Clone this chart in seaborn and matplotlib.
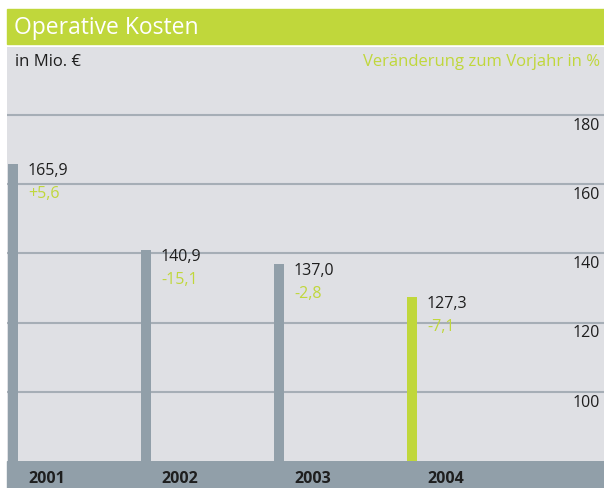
import matplotlib
matplotlib.use("Agg")
import matplotlib.pyplot as plt
import matplotlib.transforms as mtrans
from matplotlib.patches import Rectangle
import seaborn as sns

years = ["2001", "2002", "2003", "2004"]
costs = [165.9, 140.9, 137.0, 127.3]
cost_labels = ["165,9", "140,9", "137,0", "127,3"]
change_labels = ["+5,6", "-15,1", "-2,8", "-7,1"]
yticks = [100, 120, 140, 160, 180]
ytick_labels = ["100", "120", "140", "160", "180"]

GREEN = "#c0d73b"
GRAY = "#919fa9"
BG = "#dfe0e4"
GRID = "#a6aeb6"
DARK = "#1e1e1e"

sns.set_theme(style="white")
plt.rcParams["font.family"] = ["Liberation Sans Narrow", "Open Sans", "DejaVu Sans"]

W, H = 604, 489
fig = plt.figure(figsize=(W / 100, H / 100), dpi=100, facecolor="white")

# title bar
fig.patches.append(Rectangle((7 / W, 1 - 45 / H), 597 / W, 35 / H,
                             transform=fig.transFigure, color=GREEN, zorder=-2))
fig.text(14 / W, 1 - 28 / H, "Operative Kosten", color="white", fontsize=16.5,
         va="center", ha="left")
# bottom band
fig.patches.append(Rectangle((7 / W, 0), 597 / W, 27 / H,
                             transform=fig.transFigure, color=GRAY, zorder=-2))

ax = fig.add_axes([7 / W, 27 / H, 597 / W, (462 - 48) / H])
ax.set_facecolor(BG)

colors = [GRAY, GRAY, GRAY, GREEN]
sns.barplot(x=years, y=costs, hue=years, palette=colors, legend=False,
            width=0.075, saturation=1, linewidth=0, ax=ax, zorder=3)

ax.set_xlim(-0.045, -0.045 + 597 / 133)
ax.set_ylim(80, 80 + (462 - 48) / 3.4625)
ax.set_yticks(yticks)
ax.grid(axis="y", color=GRID, lw=1.5, zorder=1)
ax.grid(axis="x", visible=False)
ax.tick_params(length=0, labelleft=False, labelbottom=False)
ax.set_xlabel("")
ax.set_ylabel("")
for s in ax.spines.values():
    s.set_visible(False)

# right-hand tick labels, just below their gridlines
tr = mtrans.blended_transform_factory(ax.transAxes, ax.transData)
off = mtrans.ScaledTranslation(-4 / 100, -10 / 100, fig.dpi_scale_trans)
for v, lab in zip(yticks, ytick_labels):
    ax.text(1.0, v, lab, transform=tr + off, ha="right", va="center",
            fontsize=11.5, color=DARK)

# value and change labels
for i, (v, cl, ch) in enumerate(zip(costs, cost_labels, change_labels)):
    o1 = mtrans.ScaledTranslation(10 / 100, -6 / 100, fig.dpi_scale_trans)
    o2 = mtrans.ScaledTranslation(10 / 100, -29 / 100, fig.dpi_scale_trans)
    ax.text(i + 0.0375, v, cl, transform=ax.transData + o1, ha="left",
            va="center", fontsize=11.5, color=DARK, zorder=5)
    ax.text(i + 0.0375, v, ch, transform=ax.transData + o2, ha="left",
            va="center", fontsize=11.5, color=GREEN, zorder=5)

# year labels in the bottom band
for i, y in enumerate(years):
    xd = ax.transData.transform((i, 0))[0]
    fig.text((xd + 34) / W, 10 / H, y, ha="center", va="center",
             fontsize=11.5, fontweight="bold", color=DARK, zorder=5)

# header texts in panel
fig.text(15 / W, 1 - 62 / H, "in Mio. €", fontsize=12, color=DARK,
         ha="left", va="center")
fig.text(600 / W, 1 - 62 / H, "Veränderung zum Vorjahr in %", fontsize=12,
         color=GREEN, ha="right", va="center")

fig.savefig("out.png", dpi=100, facecolor="white")
